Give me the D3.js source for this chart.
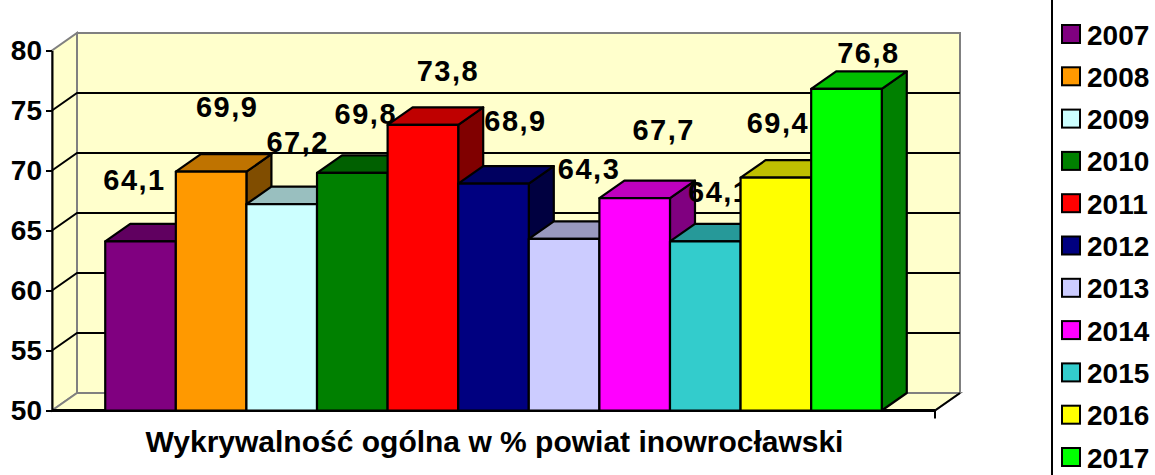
<!DOCTYPE html>
<html>
<head>
<meta charset="utf-8">
<script src="https://cdn.jsdelivr.net/npm/d3@7"></script>
<style>
  html, body { margin: 0; padding: 0; background: #ffffff; }
  svg { display: block; }
  text { font-family: Arial, "Liberation Sans", sans-serif; font-weight: bold; fill: #000; }
</style>
</head>
<body>
<svg id="chart" width="1155" height="475"></svg>
<script>
// ---- data ----
const years = ["2007", "2008", "2009", "2010", "2011", "2012", "2013", "2014", "2015", "2016", "2017"];
const values = [64.1, 69.9, 67.2, 69.8, 73.8, 68.9, 64.3, 67.7, 64.1, 69.4, 76.8];
const yTicks = [50, 55, 60, 65, 70, 75, 80];
const colors = ["#800080", "#FF9900", "#CCFFFF", "#008000", "#FF0000", "#000080",
                "#CCCCFF", "#FF00FF", "#33CCCC", "#FFFF00", "#00FF00"];
const chartTitle = "Wykrywalność ogólna w % powiat inowrocławski";

// ---- layout (not data) ----
// label offsets relative to bar centre / bar top (as placed in the original)
const labelNudge = [[-6, 51], [16, 55], [16, 52], [13.5, 49], [25, 44], [22, 53],
                    [25, 60], [29, 58.5], [14, 39], [2, 45], [22, 26]];
const D = 25, E = -17.5;           // 3D depth offsets
const frontLeft = 52, frontRight = 935;

const svg = d3.select("#chart");
const fmt = d3.formatLocale({decimal: ",", thousands: " ", grouping: [3], currency: ["", " zł"]}).format(".1f");

const y = d3.scaleLinear().domain([50, 80]).range([410.5, 50.5]);
const x = d3.scaleBand().domain(years).range([frontLeft, frontRight])
  .paddingInner(0).paddingOuter(0.754);

const wallFill = "#FFFFCC", wallEdge = "#808080";
const y0 = y(50), yTop = y(80);

// left wall
svg.append("polygon")
  .attr("points", [[frontLeft, y0], [frontLeft + D, y0 + E], [frontLeft + D, yTop + E], [frontLeft, yTop]].join(" "))
  .attr("fill", wallFill).attr("stroke", wallEdge).attr("stroke-width", 2);
// back wall
svg.append("rect")
  .attr("x", frontLeft + D).attr("y", yTop + E)
  .attr("width", frontRight - frontLeft).attr("height", y0 - yTop)
  .attr("fill", wallFill).attr("stroke", wallEdge).attr("stroke-width", 2);
// floor
svg.append("polygon")
  .attr("points", [[frontLeft, y0], [frontLeft + D, y0 + E], [frontRight + D, y0 + E], [frontRight, y0]].join(" "))
  .attr("fill", wallFill).attr("stroke", wallEdge).attr("stroke-width", 2);

// gridlines
const inner = yTicks.filter(t => t > 50 && t < 80);
const grid = svg.append("g").attr("stroke", "#000").attr("stroke-width", 2).attr("fill", "none");
inner.forEach(t => {
  grid.append("polyline")
    .attr("points", [[frontLeft, y(t)], [frontLeft + D, y(t) + E], [frontRight + D, y(t) + E]].join(" "));
});

// floor front edge + right diagonal
svg.append("line").attr("x1", frontRight).attr("y1", y0).attr("x2", frontRight + D).attr("y2", y0 + E)
  .attr("stroke", "#000").attr("stroke-width", 2);
svg.append("line").attr("x1", frontLeft).attr("y1", y0).attr("x2", frontRight).attr("y2", y0)
  .attr("stroke", "#000").attr("stroke-width", 3);
svg.append("line").attr("x1", frontRight).attr("y1", y0).attr("x2", frontRight).attr("y2", y0 + 8)
  .attr("stroke", "#000").attr("stroke-width", 2);

// y axis
const yAxis = svg.append("g").attr("transform", `translate(${frontLeft},0)`)
  .call(d3.axisLeft(y).tickValues(yTicks).tickSize(6).tickSizeOuter(0).tickPadding(4).tickFormat(d3.format("d")));
yAxis.select(".domain").attr("stroke", "#000").attr("stroke-width", 2);
yAxis.selectAll(".tick line").attr("stroke", "#000").attr("stroke-width", 2);
yAxis.selectAll(".tick text").style("font-size", "28px").style("font-weight", "bold")
  .style("font-family", "Arial, 'Liberation Sans', sans-serif").attr("fill", "#000");

// bars
const shade = (c, k) => { const r = d3.rgb(c); return d3.rgb(r.r * k, r.g * k, r.b * k).formatHex(); };
const bars = svg.append("g").attr("stroke", "#000").attr("stroke-width", 2.2).attr("stroke-linejoin", "round");
years.forEach((yr, i) => {
  const v = values[i];
  const x0 = x(yr), w = x.bandwidth(), yt = y(v), yb = y(50);
  const g = bars.append("g");
  g.append("polygon")
    .attr("points", [[x0 + w, yt], [x0 + w + D, yt + E], [x0 + w + D, yb + E], [x0 + w, yb]].join(" "))
    .attr("fill", shade(colors[i], 0.5));
  g.append("polygon")
    .attr("points", [[x0, yt], [x0 + D, yt + E], [x0 + w + D, yt + E], [x0 + w, yt]].join(" "))
    .attr("fill", shade(colors[i], 0.75));
  g.append("rect").attr("x", x0).attr("y", yt).attr("width", w).attr("height", yb - yt)
    .attr("fill", colors[i]);
  g.append("text")
    .attr("stroke", "none")
    .attr("x", x0 + w / 2 + labelNudge[i][0])
    .attr("y", yt - labelNudge[i][1])
    .attr("text-anchor", "middle")
    .style("font-size", "29px")
    .style("letter-spacing", "1.5px")
    .text(fmt(v));
});

// title
svg.append("text")
  .attr("x", (frontLeft + frontRight) / 2 + 1)
  .attr("y", 452)
  .attr("text-anchor", "middle")
  .style("font-size", "30px")
  .text(chartTitle);

// legend
svg.append("rect").attr("x", 1052).attr("y", -10).attr("width", 200).attr("height", 500)
  .attr("fill", "#fff").attr("stroke", "#000").attr("stroke-width", 2);
const ly = d3.scalePoint().domain(years).range([25, 448]);
const leg = svg.append("g");
years.forEach((yr, i) => {
  leg.append("rect").attr("x", 1062).attr("y", ly(yr)).attr("width", 18).attr("height", 18)
    .attr("fill", colors[i]).attr("stroke", "#000").attr("stroke-width", 2);
  leg.append("text").attr("x", 1087).attr("y", ly(yr) + 19.5)
    .style("font-size", "28px").text(yr);
});
</script>
</body>
</html>
